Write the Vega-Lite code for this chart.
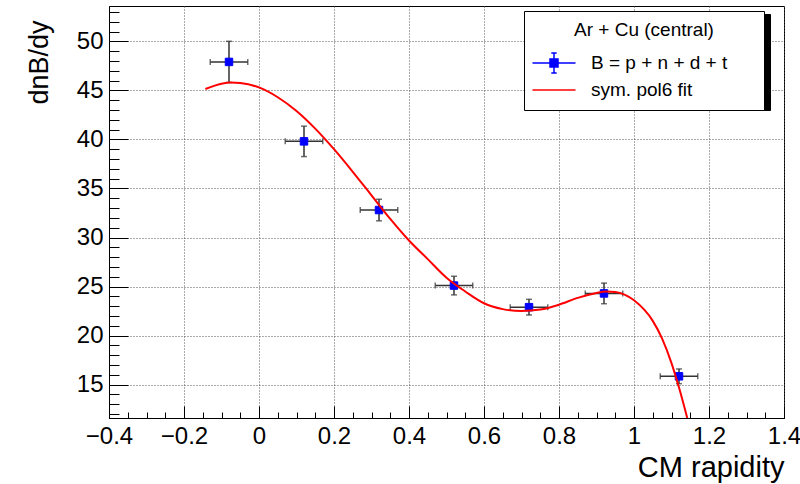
{
  "$schema": "https://vega.github.io/schema/vega-lite/v6.json",
  "width": 675,
  "height": 412,
  "autosize": {"type": "none"},
  "padding": {"left": 109, "top": 6, "right": 16, "bottom": 66},
  "background": "white",
  "config": {
    "font": "Liberation Sans",
    "view": {"stroke": "black", "strokeWidth": 1},
    "axis": {
      "domainColor": "black", "tickColor": "black", "tickWidth": 1,
      "labelColor": "black", "titleColor": "black",
      "labelFont": "Liberation Sans", "titleFont": "Liberation Sans",
      "titleFontWeight": "normal", "labelFlush": false, "labelOverlap": false
    },
    "legend": {
      "orient": "none",
      "padding": 10, "strokeColor": "black", "fillColor": "white",
      "titleFont": "Liberation Sans", "labelFont": "Liberation Sans",
      "titleFontSize": 19, "titleFontWeight": "normal", "titleAnchor": "middle",
      "titlePadding": 12, "labelFontSize": 19, "symbolSize": 400,
      "symbolOffset": 9, "labelOffset": 26, "rowPadding": 3, "labelLimit": 400,
      "titleColor": "black", "labelColor": "black", "symbolStrokeWidth": 1.5,
      "symbolFillColor": "#0000ff"
    }
  },
  "datasets": {
    "points": [
      {"rapidity": -0.08, "dndy": 47.9, "err_rap": 0.05, "err_dndy": 2.1},
      {"rapidity": 0.12, "dndy": 39.8, "err_rap": 0.05, "err_dndy": 1.55},
      {"rapidity": 0.32, "dndy": 32.8, "err_rap": 0.05, "err_dndy": 1.1},
      {"rapidity": 0.52, "dndy": 25.1, "err_rap": 0.05, "err_dndy": 0.95},
      {"rapidity": 0.72, "dndy": 22.9, "err_rap": 0.05, "err_dndy": 0.8},
      {"rapidity": 0.92, "dndy": 24.3, "err_rap": 0.05, "err_dndy": 1.05},
      {"rapidity": 1.12, "dndy": 15.85, "err_rap": 0.05, "err_dndy": 0.75}
    ],
    "fit": [
      {"rapidity": -0.143, "dndy": 45.14},
      {"rapidity": -0.1, "dndy": 45.68},
      {"rapidity": -0.075, "dndy": 45.8},
      {"rapidity": -0.05, "dndy": 45.75},
      {"rapidity": 0.0, "dndy": 45.3},
      {"rapidity": 0.05, "dndy": 44.3},
      {"rapidity": 0.1, "dndy": 42.9},
      {"rapidity": 0.15, "dndy": 41.1},
      {"rapidity": 0.2, "dndy": 39.0},
      {"rapidity": 0.25, "dndy": 36.7},
      {"rapidity": 0.3, "dndy": 34.3},
      {"rapidity": 0.35, "dndy": 31.9},
      {"rapidity": 0.4, "dndy": 29.7},
      {"rapidity": 0.45, "dndy": 27.8},
      {"rapidity": 0.5, "dndy": 25.9},
      {"rapidity": 0.55, "dndy": 24.5},
      {"rapidity": 0.6, "dndy": 23.3},
      {"rapidity": 0.65, "dndy": 22.7},
      {"rapidity": 0.7, "dndy": 22.5},
      {"rapidity": 0.75, "dndy": 22.65},
      {"rapidity": 0.8, "dndy": 23.15},
      {"rapidity": 0.85, "dndy": 23.85},
      {"rapidity": 0.9, "dndy": 24.35},
      {"rapidity": 0.925, "dndy": 24.5},
      {"rapidity": 0.95, "dndy": 24.45},
      {"rapidity": 1.0, "dndy": 23.6},
      {"rapidity": 1.05, "dndy": 21.5},
      {"rapidity": 1.075, "dndy": 19.7},
      {"rapidity": 1.1, "dndy": 17.2},
      {"rapidity": 1.12, "dndy": 14.7},
      {"rapidity": 1.142, "dndy": 11.6}
    ]
  },
  "layer": [
    {
      "data": {"name": "points"},
      "mark": {"type": "errorbar", "color": "#333333", "thickness": 1.5, "ticks": {"size": 6}},
      "encoding": {
        "x": {"field": "rapidity", "type": "quantitative", "scale": {"domain": [-0.4, 1.4], "nice": false, "zero": false}, "axis": null},
        "xError": {"field": "err_rap"},
        "y": {"field": "dndy", "type": "quantitative", "scale": {"domain": [11.6, 53.6], "nice": false, "zero": false}, "axis": null}
      }
    },
    {
      "data": {"name": "points"},
      "mark": {"type": "errorbar", "color": "#333333", "thickness": 1.5, "ticks": {"size": 6}},
      "encoding": {
        "x": {"field": "rapidity", "type": "quantitative", "axis": null},
        "y": {"field": "dndy", "type": "quantitative", "axis": null},
        "yError": {"field": "err_dndy"}
      }
    },
    {
      "data": {"name": "points"},
      "mark": {"type": "point", "shape": "square", "filled": false, "fill": "#0000ff", "strokeWidth": 1, "size": 56, "opacity": 1},
      "encoding": {
        "x": {"field": "rapidity", "type": "quantitative",
          "axis": {"orient": "bottom", "values": [-0.4,-0.35,-0.3,-0.25,-0.2,-0.15,-0.1,-0.05,0,0.05,0.1,0.15,0.2,0.25,0.3,0.35,0.4,0.45,0.5,0.55,0.6,0.65,0.7,0.75,0.8,0.85,0.9,0.95,1,1.05,1.1,1.15,1.2,1.25,1.3,1.35,1.4],
            "tickSize": -6, "labels": false, "domain": false, "grid": false, "title": null}},
        "y": {"field": "dndy", "type": "quantitative",
          "axis": {"orient": "left", "values": [12,13,14,15,16,17,18,19,20,21,22,23,24,25,26,27,28,29,30,31,32,33,34,35,36,37,38,39,40,41,42,43,44,45,46,47,48,49,50,51,52,53],
            "tickSize": -10, "labels": false, "domain": false, "grid": false, "title": null}},
        "color": {"datum": "B = p + n + d + t", "type": "nominal",
          "scale": {"domain": ["B = p + n + d + t", "sym. pol6 fit"], "range": ["#0000ff", "#ff0000"]},
          "legend": {
            "title": "Ar + Cu (central)",
            "legendX": 415, "legendY": 5, "zindex": 2,
            "labelExpr": "datum.label + '\u00a0\u00a0\u00a0\u00a0\u00a0\u200b'"
          }
        }
      }
    },
    {
      "data": {"values": []},
      "mark": {"type": "point"},
      "encoding": {
        "shape": {"datum": "B = p + n + d + t", "type": "nominal",
          "scale": {"domain": ["B = p + n + d + t", "sym. pol6 fit"],
            "range": ["M-2.15,0H2.15M0,-1V1M-0.27,-1H0.27M-0.27,1H0.27M-0.4,-0.4H0.4V0.4H-0.4Z", "M-2.15,0H2.15"]},
          "legend": {
            "title": "Ar + Cu (central)",
            "legendX": 415, "legendY": 5, "zindex": 2,
            "labelExpr": "datum.label + '\u00a0\u00a0\u00a0\u00a0\u00a0\u200b'"
          }
        }
      }
    },
    {
      "data": {"name": "fit"},
      "mark": {"type": "line", "color": "#ff0000", "strokeWidth": 2, "interpolate": "monotone", "clip": true},
      "encoding": {
        "x": {"field": "rapidity", "type": "quantitative",
          "axis": {"orient": "bottom", "values": [-0.4,-0.2,0,0.2,0.4,0.6,0.8,1,1.2,1.4], "format": "~g",
            "tickSize": -12, "labelFontSize": 24, "labelPadding": 18,
            "grid": true, "gridDash": [1, 2], "gridColor": "#555555", "gridWidth": 1,
            "title": "CM rapidity", "titleFontSize": 29, "titleAnchor": "end", "titleAlign": "right",
            "titleBaseline": "alphabetic", "titleX": 675, "titleY": 58}},
        "y": {"field": "dndy", "type": "quantitative",
          "axis": {"orient": "left", "values": [15,20,25,30,35,40,45,50], "format": "~g",
            "tickSize": -19, "labelFontSize": 24, "labelPadding": 25,
            "grid": true, "gridDash": [1, 2], "gridColor": "#555555", "gridWidth": 1,
            "title": "dnB/dy", "titleFontSize": 27, "titleAngle": -90, "titleAlign": "right",
            "titleBaseline": "alphabetic", "titleX": -62, "titleY": 14}},
        "color": {"datum": "sym. pol6 fit", "type": "nominal"},
        "opacity": {"datum": "sym. pol6 fit\u200b", "type": "nominal",
          "scale": {"domain": ["B = p + n + d + t\u200b", "sym. pol6 fit\u200b"], "range": [1, 1]},
          "legend": {
            "title": "\u200b",
            "legendX": 418, "legendY": 8, "zindex": 0,
            "fillColor": "black", "strokeColor": "black",
            "labelExpr": "'\u200b'", "labelOffset": 192,
            "titleOpacity": 0, "labelOpacity": 0, "symbolOpacity": 0
          }
        }
      }
    }
  ],
  "resolve": {"axis": {"x": "independent", "y": "independent"}}
}
